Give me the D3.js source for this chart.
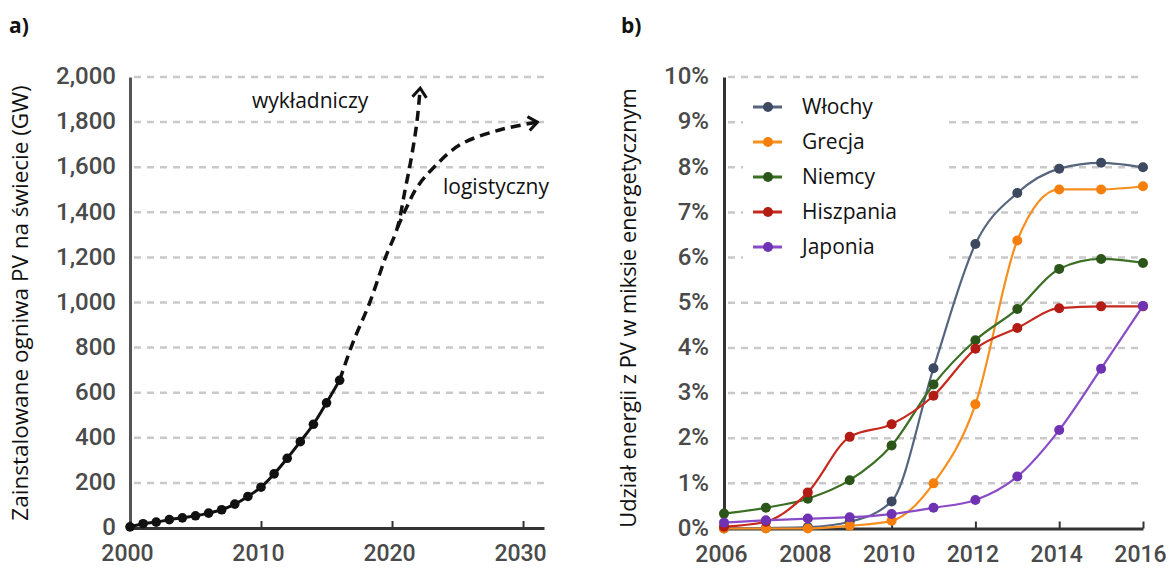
<!DOCTYPE html>
<html lang="pl">
<head>
<meta charset="UTF-8">
<title>Ogniwa PV</title>
<script src="https://d3js.org/d3.v7.min.js"></script>
<style>
  body { margin: 0; background: #fff; }
  .tick text { font-family: Roboto, sans-serif; font-weight: 500; font-size: 24px; fill: #4a4a4a; }
  .lbl { font-family: "Open Sans", sans-serif; fill: #111; }
</style>
</head>
<body>
<svg width="1175" height="568"></svg>
<script>
// panel a - installed PV worldwide (GW)
const yearsA = d3.range(2000, 2017);
const gwA = [5, 19, 26, 37, 45, 54, 66, 81, 106, 140, 181, 240, 309, 383, 460, 555, 655];
const expYears = [2016, 2017, 2018.3, 2019.5, 2020.4, 2021.0, 2021.5, 2021.9, 2022.15];
const expGW = [655, 820, 1000, 1200, 1330, 1500, 1650, 1800, 1950];
const logYears = [2020.4, 2021.1, 2021.9, 2023.2, 2025.2, 2028.2, 2031.1];
const logGW = [1330, 1420, 1510, 1600, 1700, 1765, 1800];
const ticksA = [0, 200, 400, 600, 800, 1000, 1200, 1400, 1600, 1800, 2000];
const yearTicksA = [2000, 2010, 2020, 2030];

// panel b - PV share in the energy mix (%)
const yearsB = d3.range(2006, 2017);
const countries = ["Włochy", "Grecja", "Niemcy", "Hiszpania", "Japonia"];
const colors = ["#56657e", "#f78f1e", "#3b6f24", "#c62a1f", "#8a4cc6"];
const dotColors = ["#3c4960", "#f47f0c", "#2c5619", "#b31c14", "#6f32b2"];
const wlochy = [0, 0.01, 0.03, 0.15, 0.6, 3.55, 6.3, 7.43, 7.97, 8.1, 8.0];
const grecja = [0, 0, 0, 0.06, 0.17, 1.0, 2.75, 6.38, 7.51, 7.51, 7.58];
const niemcy = [0.33, 0.46, 0.66, 1.07, 1.84, 3.19, 4.17, 4.86, 5.75, 5.97, 5.88];
const hiszpania = [0.04, 0.15, 0.8, 2.03, 2.31, 2.94, 3.98, 4.44, 4.88, 4.92, 4.92];
const japonia = [0.13, 0.18, 0.22, 0.25, 0.32, 0.46, 0.63, 1.15, 2.18, 3.54, 4.93];
const seriesB = [wlochy, grecja, niemcy, hiszpania, japonia];
const ticksB = d3.range(0, 11);
const yearTicksB = [2006, 2008, 2010, 2012, 2014, 2016];

const svg = d3.select("svg");

svg.append("defs").append("marker")
   .attr("id", "chev")
   .attr("viewBox", "-12 -10 14 20")
   .attr("markerUnits", "userSpaceOnUse")
   .attr("markerWidth", 14).attr("markerHeight", 20)
   .attr("refX", 0).attr("refY", 0)
   .attr("orient", "auto")
   .append("path")
   .attr("d", "M-9,-7 L0,0 L-9,7")
   .attr("fill", "none").attr("stroke", "#111").attr("stroke-width", 3);

// ---------- panel a ----------
const xA = d3.scaleLinear().domain([2000, 2031.6]).range([130, 544]);
const yA = d3.scaleLinear().domain([0, 2000]).range([528, 77]);

svg.append("g").selectAll("line")
   .data(ticksA.slice(1))
   .enter().append("line")
   .attr("x1", 134).attr("x2", 545)
   .attr("y1", d => yA(d)).attr("y2", d => yA(d))
   .attr("stroke", "#c9c9c9").attr("stroke-width", 2.5)
   .attr("stroke-dasharray", "7,6");

const axYA = svg.append("g")
   .attr("transform", "translate(130,0)")
   .call(d3.axisLeft(yA).tickValues(ticksA).tickSize(0).tickPadding(14).tickFormat(d3.format(",")));
axYA.select(".domain").attr("stroke", "#555").attr("stroke-width", 3);
axYA.selectAll(".tick text").attr("dy", "0.28em");

const axXA = svg.append("g")
   .attr("transform", "translate(0,528)")
   .call(d3.axisBottom(xA).tickValues(yearTicksA).tickSize(-7).tickSizeOuter(0).tickPadding(17).tickFormat(d3.format("d")));
axXA.select(".domain").attr("stroke", "#333").attr("stroke-width", 3);
axXA.selectAll(".tick line").attr("stroke", "#333").attr("stroke-width", 2);
axXA.selectAll(".tick text").attr("dx", -3).style("font-size", "23px");

const lineA = d3.line().x(d => xA(d[0])).y(d => yA(d[1])).curve(d3.curveCatmullRom);

svg.append("path")
   .datum(d3.zip(yearsA, gwA))
   .attr("d", lineA)
   .attr("fill", "none").attr("stroke", "#111").attr("stroke-width", 3);

svg.selectAll(".dotA")
   .data(d3.zip(yearsA, gwA))
   .enter().append("circle")
   .attr("class", "dotA")
   .attr("cx", d => xA(d[0])).attr("cy", d => yA(d[1]))
   .attr("r", 4.8).attr("fill", "#111");

[d3.zip(expYears, expGW), d3.zip(logYears, logGW)].forEach(pts => {
  svg.append("path")
     .datum(pts)
     .attr("d", lineA)
     .attr("fill", "none").attr("stroke", "#111").attr("stroke-width", 3.5)
     .attr("stroke-dasharray", "10,6")
     .attr("marker-end", "url(#chev)");
});

svg.append("text").attr("class", "lbl").attr("x", 252).attr("y", 108)
   .style("font-size", "21px").text("wykładniczy");
svg.append("text").attr("class", "lbl").attr("x", 443).attr("y", 194)
   .style("font-size", "21px").text("logistyczny");

svg.append("text").attr("class", "lbl")
   .attr("transform", "translate(28,303) rotate(-90)")
   .attr("text-anchor", "middle")
   .style("font-size", "22.5px")
   .text("Zainstalowane ogniwa PV na świecie (GW)");

svg.append("text").attr("class", "lbl").attr("x", 9).attr("y", 33)
   .style("font-size", "21px").style("font-weight", "bold").text("a)");

// ---------- panel b ----------
const xB = d3.scaleLinear().domain([2006, 2016]).range([724, 1143]);
const yB = d3.scaleLinear().domain([0, 10]).range([528.5, 77]);

svg.append("g").selectAll("line")
   .data(ticksB.slice(1))
   .enter().append("line")
   .attr("x1", 728).attr("x2", 1143)
   .attr("y1", d => yB(d)).attr("y2", d => yB(d))
   .attr("stroke", "#c9c9c9").attr("stroke-width", 2.5)
   .attr("stroke-dasharray", "7,6");

const axYB = svg.append("g")
   .attr("transform", "translate(724,0)")
   .call(d3.axisLeft(yB).tickValues(ticksB).tickSize(0).tickPadding(15).tickFormat(d => d + "%"));
axYB.select(".domain").attr("stroke", "#333").attr("stroke-width", 3);
axYB.selectAll(".tick text").attr("dy", "0.28em");

const axXB = svg.append("g")
   .attr("transform", "translate(0,528.5)")
   .call(d3.axisBottom(xB).tickValues(yearTicksB).tickSize(-7).tickSizeOuter(0).tickPadding(17).tickFormat(d3.format("d")));
axXB.select(".domain").attr("stroke", "#333").attr("stroke-width", 3);
axXB.selectAll(".tick line").attr("stroke", "#333").attr("stroke-width", 2);
axXB.selectAll(".tick text").attr("dx", -3).style("font-size", "23px");

const lineB = d3.line().x(d => xB(d[0])).y(d => yB(d[1])).curve(d3.curveMonotoneX);

seriesB.forEach((vals, i) => {
  const pts = d3.zip(yearsB, vals);
  svg.append("path")
     .datum(pts)
     .attr("d", lineB)
     .attr("fill", "none").attr("stroke", colors[i]).attr("stroke-width", 2.2);
  svg.append("g").selectAll("circle")
     .data(pts)
     .enter().append("circle")
     .attr("cx", d => xB(d[0])).attr("cy", d => yB(d[1]))
     .attr("r", 5).attr("fill", dotColors[i]);
});

// legend
const legend = svg.append("g");
legend.append("rect")
   .attr("x", 743).attr("y", 86).attr("width", 203).attr("height", 193)
   .attr("fill", "#fff");
const legY = d3.scalePoint().domain(countries).range([107, 247]);
countries.forEach((c, i) => {
  const y = legY(c);
  legend.append("line")
     .attr("x1", 753).attr("x2", 782).attr("y1", y).attr("y2", y)
     .attr("stroke", colors[i]).attr("stroke-width", 3);
  legend.append("circle").attr("cx", 768).attr("cy", y).attr("r", 5).attr("fill", dotColors[i]);
  legend.append("text").attr("class", "lbl")
     .attr("x", 802).attr("y", y).attr("dy", "0.35em")
     .style("font-size", "21px").text(c);
});

svg.append("text").attr("class", "lbl")
   .attr("transform", "translate(636,308) rotate(-90)")
   .attr("text-anchor", "middle")
   .style("font-size", "21.8px")
   .text("Udział energii z PV w miksie energetycznym");

svg.append("text").attr("class", "lbl").attr("x", 621).attr("y", 33)
   .style("font-size", "21px").style("font-weight", "bold").text("b)");
</script>
</body>
</html>
